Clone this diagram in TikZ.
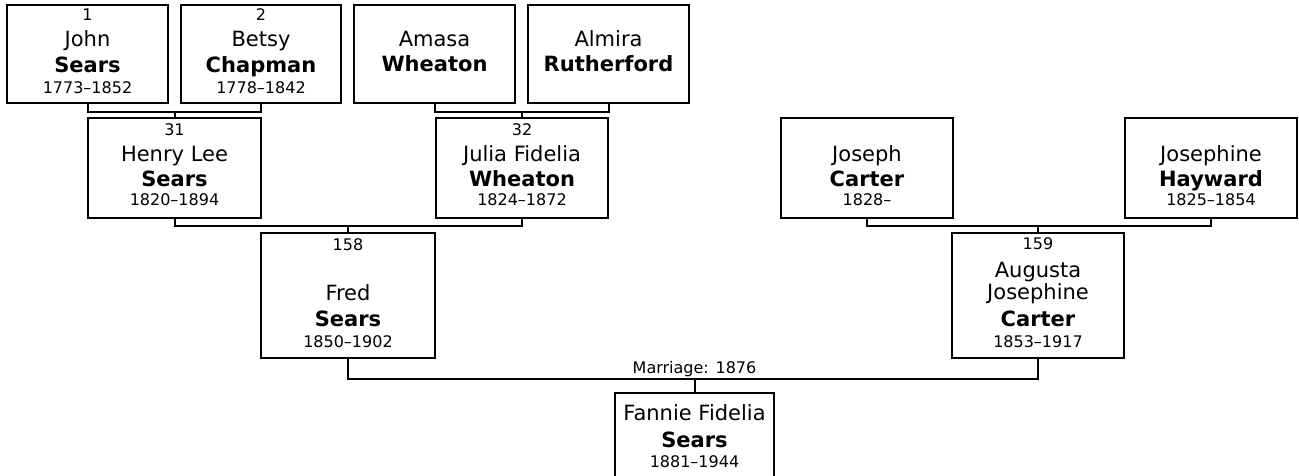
\documentclass[tikz,border=0pt]{standalone}
\usepackage{fontspec}
\setmainfont{DejaVu Sans}
\begin{document}
\begin{tikzpicture}[x=1pt,y=-1pt,
  pbox/.style={draw, line width=2pt, rectangle, inner sep=0pt, outer sep=0pt},
  conn/.style={line width=2pt},
  num/.style={anchor=base, inner sep=0pt, font=\fontsize{16}{19}\selectfont},
  yrs/.style={anchor=base, inner sep=0pt, font=\fontsize{16}{19}\selectfont},
  given/.style={anchor=base, inner sep=0pt, font=\fontsize{21}{25}\selectfont},
  sur/.style={anchor=base, inner sep=0pt, font=\fontsize{21}{25}\selectfont\bfseries},
  lbl/.style={anchor=base, inner sep=0pt, font=\fontsize{16}{19}\selectfont}]
\clip (0,0) rectangle (1299,476);
\fill[white] (0,0) rectangle (1299,476);

% ---- boxes ----
\node[pbox, minimum width=161pt, minimum height=98pt] (john) at (87.5,54) {};
\node[pbox, minimum width=160pt, minimum height=98pt] (betsy) at (261,54) {};
\node[pbox, minimum width=161pt, minimum height=98pt] (amasa) at (434.5,54) {};
\node[pbox, minimum width=161pt, minimum height=98pt] (almira) at (608.5,54) {};
\node[pbox, minimum width=173pt, minimum height=100pt] (henry) at (174.5,168) {};
\node[pbox, minimum width=172pt, minimum height=100pt] (julia) at (522,168) {};
\node[pbox, minimum width=172pt, minimum height=100pt] (joseph) at (867,168) {};
\node[pbox, minimum width=172pt, minimum height=100pt] (josephine) at (1211,168) {};
\node[pbox, minimum width=174pt, minimum height=125pt] (fred) at (348,295.5) {};
\node[pbox, minimum width=172pt, minimum height=125pt] (augusta) at (1038,295.5) {};
\node[pbox, minimum width=159pt, minimum height=107pt] (fannie) at (694.5,446.5) {};

% ---- texts ----
\node[num] (johnN) at (87.5,20.7) {1};
\node[given] (johnG) at (87.5,46.7) {John};
\node[sur] (johnS) at (87.5,72.7) {Sears};
\node[yrs] (johnY) at (87.5,93.3) {1773\textendash1852};

\node[num] (betsyN) at (261,20.7) {2};
\node[given] (betsyG) at (261,46.7) {Betsy};
\node[sur] (betsyS) at (261,72.7) {Chapman};
\node[yrs] (betsyY) at (261,93.3) {1778\textendash1842};

\node[given] (amasaG) at (434.5,47) {Amasa};
\node[sur] (amasaS) at (434.5,72) {Wheaton};

\node[given] (almiraG) at (608.5,47) {Almira};
\node[sur] (almiraS) at (608.5,72) {Rutherford};

\node[num] (henryN) at (174.5,136) {31};
\node[given] (henryG) at (174.5,161) {Henry Lee};
\node[sur] (henryS) at (174.5,186) {Sears};
\node[yrs] (henryY) at (174.5,205.7) {1820\textendash1894};

\node[num] (juliaN) at (522,136) {32};
\node[given] (juliaG) at (522,161) {Julia Fidelia};
\node[sur] (juliaS) at (522,186) {Wheaton};
\node[yrs] (juliaY) at (522,205.7) {1824\textendash1872};

\node[given] (josephG) at (867,161) {Joseph};
\node[sur] (josephS) at (867,186) {Carter};
\node[yrs] (josephY) at (867,205.7) {1828\textendash};

\node[given] (josephineG) at (1211,161) {Josephine};
\node[sur] (josephineS) at (1211,186) {Hayward};
\node[yrs] (josephineY) at (1211,205.7) {1825\textendash1854};

\node[num] (fredN) at (348,250) {158};
\node[given] (fredG) at (348,300) {Fred};
\node[sur] (fredS) at (348,326) {Sears};
\node[yrs] (fredY) at (348,347) {1850\textendash1902};

\node[num] (augustaN) at (1038,249.5) {159};
\node[given] (augustaG1) at (1038,277) {Augusta};
\node[given] (augustaG2) at (1038,299) {Josephine};
\node[sur] (augustaS) at (1038,326) {Carter};
\node[yrs] (augustaY) at (1038,347) {1853\textendash1917};

\node[given] (fannieG) at (694.5,420) {Fannie Fidelia};
\node[sur] (fannieS) at (694.5,447) {Sears};
\node[yrs] (fannieY) at (694.5,467) {1881\textendash1944};

% ---- connectors ----
\coordinate (m1) at (174.5,112);
\draw[conn] (john.south) |- (m1) -| (betsy.south);
\draw[conn] (m1) -- (henry.north);

\coordinate (m2) at (522,112);
\draw[conn] (amasa.south) |- (m2) -| (almira.south);
\draw[conn] (m2) -- (julia.north);

\coordinate (m3) at (348,225.5);
\draw[conn] (henry.south) |- (m3) -| (julia.south);
\draw[conn] (m3) -- (fred.north);

\coordinate (m4) at (1038,226);
\draw[conn] (joseph.south) |- (m4) -| (josephine.south);
\draw[conn] (m4) -- (augusta.north);

\coordinate (m5) at (694.5,378.5);
\draw[conn] (fred.south) |- (m5) -| (augusta.south);
\draw[conn] (m5) -- (fannie.north);
\node[lbl] (marr) at (694.5,373) {Marriage: 1876};
\end{tikzpicture}
\end{document}
